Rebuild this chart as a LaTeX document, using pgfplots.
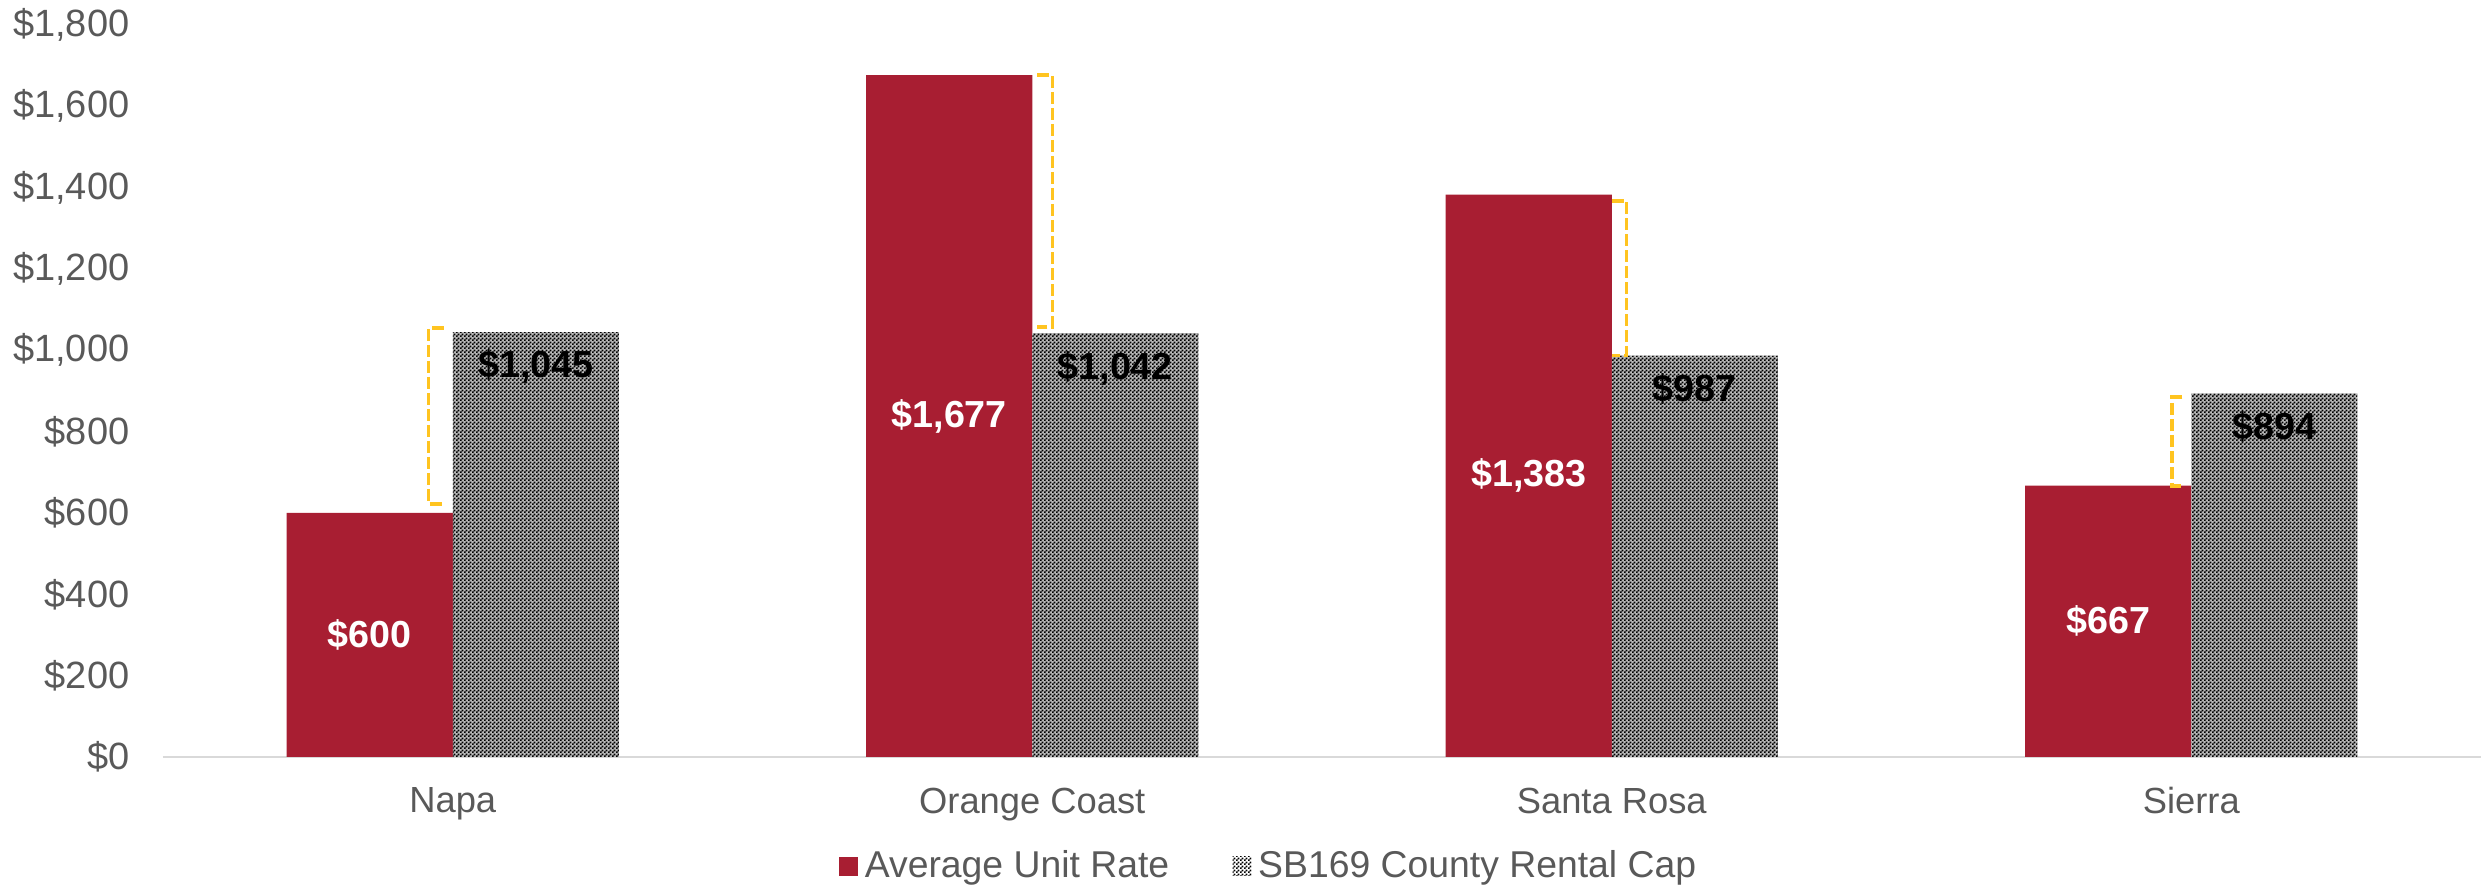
\documentclass[border=0pt]{standalone}
\usepackage{pgfplots}
\pgfplotsset{compat=1.18}
\usepackage{fontspec}
\setmainfont{Liberation Sans}
\usetikzlibrary{patterns}
\definecolor{barred}{RGB}{168,30,50}
\definecolor{txtgray}{RGB}{89,89,89}
\definecolor{axgray}{RGB}{217,217,217}
\definecolor{gold}{RGB}{255,196,32}
\pgfdeclarepatternformonly{finecheck}{\pgfpointorigin}{\pgfpoint{1.2pt}{1.2pt}}{\pgfpoint{1.2pt}{1.2pt}}{%
  \pgfpathrectangle{\pgfpointorigin}{\pgfpoint{0.62pt}{0.62pt}}%
  \pgfpathrectangle{\pgfpoint{0.6pt}{0.6pt}}{\pgfpoint{0.62pt}{0.62pt}}%
  \pgfusepath{fill}}
\pgfplotstableread{
x rate cap
0 600 1045
1 1677 1042
2 1383 987
3 667 894
}\datatable
\begin{document}
\begin{tikzpicture}
\begin{axis}[
  scale only axis,
  width=695.4pt, height=219.6pt,
  xmin=-0.5, xmax=3.5,
  ymin=0, ymax=1800,
  ytick={0,200,...,1800},
  xtick={0,1,2,3},
  xticklabels={Napa,Orange Coast,Santa Rosa,Sierra},
  axis x line*=bottom,
  axis y line*=left,
  y axis line style={draw=none},
  x axis line style={axgray, line width=0.6pt, -},
  major tick length=0pt,
  /pgf/number format/.cd, assume math mode=true, 1000 sep={,}, fixed, precision=0,
  /pgfplots/.cd,
  yticklabel={\$\pgfmathprintnumber{\tick}},
  ticklabel style={text=txtgray},
  yticklabel style={font=\fontsize{11.4}{13}\selectfont, anchor=east, inner sep=0pt, xshift=-9.9pt},
  xticklabel style={font=\fontsize{10.9}{13}\selectfont, anchor=north, inner sep=0pt, yshift=-9.0pt},
  legend style={at={(0.478,-0.149)}, anchor=center, draw=none, fill=none,
    font=\fontsize{11.2}{13}\selectfont, text=txtgray,
    legend columns=2, /tikz/every even column/.append style={column sep=17pt},
    inner sep=0pt},
  legend cell align=left,
  legend image code/.code={\path[#1, draw=none] (0pt,-2.85pt) rectangle (5.7pt,2.85pt);},
  clip=false,
]
\addplot[ybar, bar width=0.2865, bar shift=-0.14325, fill=barred, draw=none,
  point meta=y,
  visualization depends on=y \as \rawy,
  nodes near coords={\$\pgfmathprintnumber{\pgfplotspointmeta}},
  every node near coord/.append style={font=\bfseries\fontsize{11.3}{13}\selectfont, text=white, anchor=center, inner sep=0pt, xshift=-24.9pt, yshift={-0.061pt*\rawy}}
  ] table[x=x, y=rate] {\datatable};
\addlegendentry{Average Unit Rate}
\addplot[ybar, bar width=0.2865, bar shift=0.14325, fill=black!28, draw=none, forget plot]
  table[x=x, y=cap] {\datatable};
\addplot[ybar, bar width=0.2865, bar shift=0.14325, pattern=finecheck, pattern color=black, draw=none,
  point meta=y,
  nodes near coords={\$\pgfmathprintnumber{\pgfplotspointmeta}},
  every node near coord/.append style={font=\bfseries\fontsize{11.3}{13}\selectfont, text=black, anchor=north, inner sep=0pt, xshift=24.9pt, yshift=-5.2pt}
  ] table[x=x, y=cap] {\datatable};
\addlegendentry{SB169 County Rental Cap}
% brackets
\draw[gold, line width=1pt, dash pattern=on 3.6pt off 1.2pt]
  (axis cs:-0.0155,1055) -- (axis cs:-0.0414,1055) -- (axis cs:-0.0414,622) -- (axis cs:-0.0155,622);
\draw[gold, line width=1pt, dash pattern=on 3.6pt off 1.2pt]
  (axis cs:1.0086,1677) -- (axis cs:1.0345,1677) -- (axis cs:1.0345,1057) -- (axis cs:1.0086,1057);
\draw[gold, line width=1pt, dash pattern=on 3.6pt off 1.2pt]
  (axis cs:2.0,1367) -- (axis cs:2.026,1367) -- (axis cs:2.026,988) -- (axis cs:2.0,988);
\draw[gold, line width=1pt, dash pattern=on 3.6pt off 1.2pt]
  (axis cs:2.9845,885) -- (axis cs:2.967,885) -- (axis cs:2.967,666) -- (axis cs:2.9845,666);
\end{axis}
\pgfresetboundingbox
\path[use as bounding box] (-48.9pt,-39.6pt) rectangle (695.4pt,227.1pt);
\end{tikzpicture}
\end{document}
